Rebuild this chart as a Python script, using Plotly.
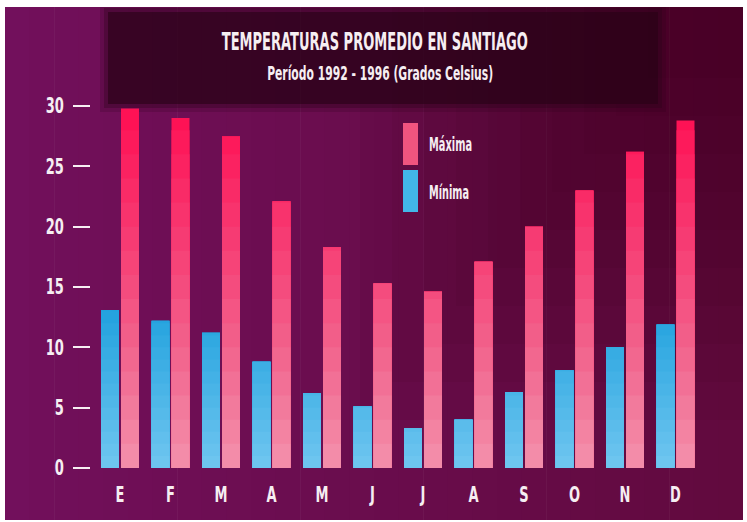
import json
import numpy as np
import plotly.graph_objects as go

# ---- data ----
months = ["E", "F", "M", "A", "M", "J", "J", "A", "S", "O", "N", "D"]
maxima = [29.8, 29.0, 27.5, 22.1, 18.3, 15.3, 14.6, 17.1, 20.0, 23.0, 26.2, 28.8]
minima = [13.1, 12.2, 11.2, 8.8, 6.2, 5.1, 3.3, 4.0, 6.3, 8.1, 10.0, 11.9]
y_ticks = [0, 5, 10, 15, 20, 25, 30]
title_text = "TEMPERATURAS PROMEDIO EN SANTIAGO"
subtitle_text = "Período 1992 - 1996 (Grados Celsius)"
legend_labels = ["Máxima", "Mínima"]

W, H = 747, 522
FONT = "DejaVu Sans, sans-serif"
TXT = "#f6eef2"

def px(x):
    return x / W

def py(y):
    return 1 - y / H

def fnt(size):
    return dict(family=FONT, size=size, color=TXT, weight="bold")

def lerp_color(stops, v):
    vs = [s[0] for s in stops]
    cols = np.array([s[1] for s in stops], dtype=float)
    c = [np.interp(v, vs, cols[:, i]) for i in range(3)]
    return "rgb(%d,%d,%d)" % tuple(int(round(x)) for x in c)

max_stops = [(0, (243, 145, 172)), (10, (242, 98, 140)), (20, (247, 55, 112)), (30, (255, 14, 82))]
min_stops = [(0, (112, 198, 240)), (13, (34, 162, 222))]

xpos = np.arange(len(months))
maxv = np.array(maxima)
minv = np.array(minima)

fig = go.Figure()

BAR_W = 0.356
# minima bars, banded to mimic the vertical gradient
min_levels = list(np.arange(14, 0, -1.0))
for t in [None] + min_levels:
    yv = minv if t is None else np.minimum(minv, t)
    ctop = 14 if t is None else t
    fig.add_trace(go.Bar(
        x=xpos, y=yv, width=BAR_W, offset=-0.376,
        marker=dict(color=lerp_color(min_stops, ctop - 0.5), line=dict(width=0)),
        showlegend=False, name="Mínima",
        hoverinfo=None if t is None else "skip",
    ))

max_levels = list(np.arange(28, 0, -2.0))
for t in [None] + max_levels:
    yv = maxv if t is None else np.minimum(maxv, t)
    ctop = 30 if t is None else t
    fig.add_trace(go.Bar(
        x=xpos, y=yv, width=BAR_W, offset=0.02,
        marker=dict(color=lerp_color(max_stops, ctop - 1), line=dict(width=0)),
        showlegend=False, name="Máxima",
        hoverinfo=None if t is None else "skip",
    ))

shapes = []
# picture background (white frame around it)
n_strips = 30
x0, x1 = 5, 743
left_c = np.array([114, 16, 92])
right_c = np.array([98, 10, 62])
for i in range(n_strips):
    a = i / (n_strips - 1)
    c = (1 - a) * left_c + a * right_c
    xa = x0 + (x1 - x0) * i / n_strips
    xb = x0 + (x1 - x0) * (i + 1) / n_strips + 0.6
    shapes.append(dict(type="rect", xref="paper", yref="paper",
                       x0=px(xa), x1=px(min(xb, x1)), y0=py(520), y1=py(7),
                       fillcolor="rgb(%d,%d,%d)" % tuple(int(v) for v in c),
                       line=dict(width=0), layer="below"))
# darker upper-right area, built from faint overlapping layers
for k in range(10):
    shapes.append(dict(type="rect", xref="paper", yref="paper",
                       x0=px(360 + 32 * k), x1=px(743), y0=py(420 - 38 * k), y1=py(7),
                       fillcolor="rgba(45,0,12,0.06)", line=dict(width=0), layer="below"))
# title box with soft edges
for pad, op in [(8, 0.18), (4, 0.3), (0, 0.6)]:
    shapes.append(dict(type="rect", xref="paper", yref="paper",
                       x0=px(108 - pad), x1=px(658 + pad), y0=py(104 + pad), y1=py(max(7, 12 - pad)),
                       fillcolor="rgba(40,2,22,%.2f)" % op, line=dict(width=0), layer="below"))
# legend swatches
shapes.append(dict(type="rect", xref="paper", yref="paper",
                   x0=px(403), x1=px(418), y0=py(165), y1=py(123),
                   fillcolor="#f0547f", line=dict(width=0)))
shapes.append(dict(type="rect", xref="paper", yref="paper",
                   x0=px(403), x1=px(418), y0=py(212), y1=py(170),
                   fillcolor="#42b6e8", line=dict(width=0)))

# target rendered widths (px) for the condensed lettering
widths = {title_text: 306, subtitle_text: 226, legend_labels[0]: 43, legend_labels[1]: 40}

annotations = [
    dict(text=title_text, xref="paper", yref="paper", x=px(375), y=py(42),
         showarrow=False, font=fnt(24), xanchor="center", yanchor="middle"),
    dict(text=subtitle_text, xref="paper", yref="paper", x=px(380), y=py(73),
         showarrow=False, font=fnt(19), xanchor="center", yanchor="middle"),
    dict(text=legend_labels[0], xref="paper", yref="paper", x=px(429 + 43 / 2), y=py(144),
         showarrow=False, font=fnt(19), xanchor="center", yanchor="middle"),
    dict(text=legend_labels[1], xref="paper", yref="paper", x=px(429 + 40 / 2), y=py(192),
         showarrow=False, font=fnt(19), xanchor="center", yanchor="middle"),
]

y_top = 32
fig.update_layout(
    width=W, height=H, autosize=False,
    margin=dict(l=0, r=0, t=0, b=0, pad=0),
    paper_bgcolor="white", plot_bgcolor="rgba(0,0,0,0)",
    barmode="overlay", showlegend=False,
    shapes=shapes, annotations=annotations,
    xaxis=dict(range=[-0.5, 11.5], domain=[94.75 / W, 700.75 / W],
               tickvals=list(xpos), ticktext=months,
               tickfont=fnt(21),
               showgrid=False, zeroline=False, showline=False, ticks="",
               ticklabelstandoff=12, automargin=False, fixedrange=True),
    yaxis=dict(range=[0, y_top], domain=[py(468), py(468 - y_top * 12.067)],
               anchor="free", position=90 / W,
               tickvals=y_ticks, ticktext=[str(v) for v in y_ticks],
               tickfont=fnt(21),
               ticks="outside", ticklen=17, tickwidth=2, tickcolor=TXT,
               showgrid=False, zeroline=False, showline=False,
               ticklabelstandoff=5, automargin=False, fixedrange=True),
)

# page without body margin; narrow (condensed) lettering as in the reference
post = """
document.body.style.margin = '0';
var targets = %s;
document.querySelectorAll('svg text').forEach(function(t){
  try {
    var L = t.getComputedTextLength();
    if (L > 0) {
      var s = t.textContent;
      var w = (s in targets) ? targets[s] : L * 0.62;
      t.setAttribute('textLength', w.toFixed(1));
      t.setAttribute('lengthAdjust', 'spacingAndGlyphs');
    }
  } catch (e) {}
});
""" % json.dumps(widths, ensure_ascii=False)
fig.write_html("out.html", post_script=post, config={"displayModeBar": False})
